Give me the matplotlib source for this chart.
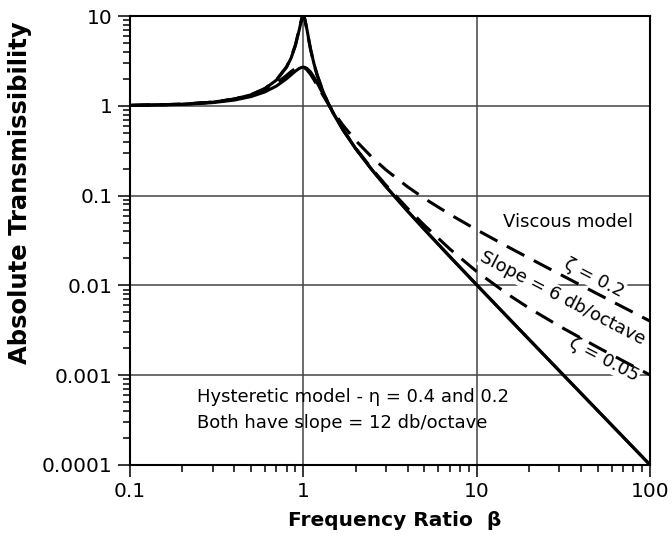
import matplotlib
matplotlib.use("Agg")
import matplotlib.pyplot as plt

plt.rcParams['font.family'] = ['DejaVu Sans']

# frequency ratio beta
beta = [0.1, 0.2, 0.3, 0.4, 0.5, 0.6, 0.7, 0.8, 0.85, 0.9, 0.95, 0.98, 1.0,
        1.02, 1.05, 1.1, 1.15, 1.2, 1.3, 1.4, 1.5, 1.7, 2, 2.5, 3, 4, 5, 7,
        10, 15, 20, 30, 50, 70, 100]

# hysteretic model, sharp peak
hyst_sharp = [1.010, 1.041, 1.098, 1.188, 1.328, 1.552, 1.934, 2.690, 3.407,
              4.681, 7.196, 9.344, 10.05, 9.318, 7.018, 4.321, 2.976, 2.227,
              1.442, 1.041, 0.8014, 0.5310, 0.3348, 0.1914, 0.1256, 0.06700,
              0.04187, 0.02094, 0.01015, 0.004487, 0.002519, 0.001118,
              4.022e-4, 2.051e-4, 1.005e-4]

# hysteretic model, low peak (merges with the other one above beta ~ 1.5)
hyst_wide = [1.009, 1.036, 1.084, 1.158, 1.267, 1.427, 1.662, 2.001, 2.212,
             2.432, 2.616, 2.679, 2.693, 2.679, 2.608, 2.384, 2.096, 1.811,
             1.350, 1.036, 0.8100, 0.5400, 0.3348, 0.1914, 0.1256, 0.06700,
             0.04187, 0.02094, 0.01015, 0.004487, 0.002519, 0.001118,
             4.022e-4, 2.051e-4, 1.005e-4]

# viscous model, zeta = 0.05
visc_005 = [1.010, 1.042, 1.099, 1.190, 1.332, 1.558, 1.947, 2.720, 3.458,
            4.776, 7.379, 9.506, 10.05, 9.162, 6.853, 4.244, 2.940, 2.208,
            1.436, 1.041, 0.8032, 0.5345, 0.3392, 0.1961, 0.1304, 0.07178,
            0.04658, 0.02543, 0.01428, 0.008048, 0.005604, 0.003518,
            0.002040, 0.001443, 0.001005]

# viscous model, zeta = 0.2
visc_02 = [1.010, 1.041, 1.097, 1.184, 1.314, 1.505, 1.785, 2.180, 2.407,
           2.611, 2.727, 2.726, 2.693, 2.634, 2.509, 2.241, 1.959, 1.703,
           1.305, 1.031, 0.8411, 0.6021, 0.4125, 0.2646, 0.1931, 0.1251,
           0.09285, 0.06184, 0.04161, 0.02715, 0.02020, 0.01339, 0.008013,
           0.005719, 0.004002]

xticks = [0.1, 1, 10, 100]
xtick_labels = ['0.1', '1', '10', '100']
yticks = [0.0001, 0.001, 0.01, 0.1, 1, 10]
ytick_labels = ['0.0001', '0.001', '0.01', '0.1', '1', '10']

fig = plt.figure(figsize=(6.72, 5.42), dpi=100)
ax = fig.add_axes([130 / 672, 1 - 465 / 542, 520 / 672, 449 / 542])

lw = 2.2
ax.plot(beta, hyst_sharp, color='black', lw=lw, zorder=3)
ax.plot(beta, hyst_wide, color='black', lw=lw, zorder=3)
ax.plot(beta, visc_005, color='black', lw=lw, dashes=(6.5, 3.5), zorder=3)
ax.plot(beta, visc_02, color='black', lw=lw, dashes=(6.5, 3.5), zorder=3)

ax.set_xscale('log')
ax.set_yscale('log')
ax.set_xlim(0.1, 100)
ax.set_ylim(0.0001, 10)
ax.set_xticks(xticks)
ax.set_xticklabels(xtick_labels)
ax.set_yticks(yticks)
ax.set_yticklabels(ytick_labels)

ax.set_axisbelow(True)
ax.grid(True, which='major', color='#444444', lw=1.1)
ax.grid(False, which='minor')
for s in ax.spines.values():
    s.set_linewidth(1.5)
    s.set_color('black')
ax.tick_params(which='major', direction='out', length=8.5, width=1.1,
               labelsize=14.5, pad=4)
ax.tick_params(which='minor', direction='out', length=5, width=1.1)
ax.tick_params(axis='x', which='both', top=False)
ax.tick_params(axis='y', which='both', right=False)

# annotations
box = dict(facecolor='white', edgecolor='none', pad=0.5)
ax.text(33.6, 0.051, 'Viscous model', fontsize=13, ha='center', va='center')
ax.text(47.4, 0.0121, 'ζ = 0.2', fontsize=13, ha='center', va='center',
        rotation=-27.4, bbox=box, zorder=2.5)
ax.text(31.4, 0.00724, 'Slope = 6 db/octave', fontsize=13, ha='center',
        va='center', rotation=-27.4, bbox=box, zorder=2.5)
ax.text(54.2, 0.00148, 'ζ = 0.05', fontsize=13, ha='center', va='center',
        rotation=-27.4, bbox=box, zorder=2.5)
ax.text(0.244, 5.7e-4, 'Hysteretic model - η = 0.4 and 0.2', fontsize=13,
        ha='left', va='center')
ax.text(0.244, 2.94e-4, 'Both have slope = 12 db/octave', fontsize=13,
        ha='left', va='center')

fig.text(395 / 672, 1 - 521 / 542, 'Frequency Ratio  β', fontsize=14.5,
         fontweight='bold', ha='center', va='center')
fig.text(20 / 672, 1 - 193 / 542, 'Absolute Transmissibility', fontsize=17.5,
         fontweight='bold', ha='center', va='center', rotation=90)

fig.savefig('out.png', dpi=100)
